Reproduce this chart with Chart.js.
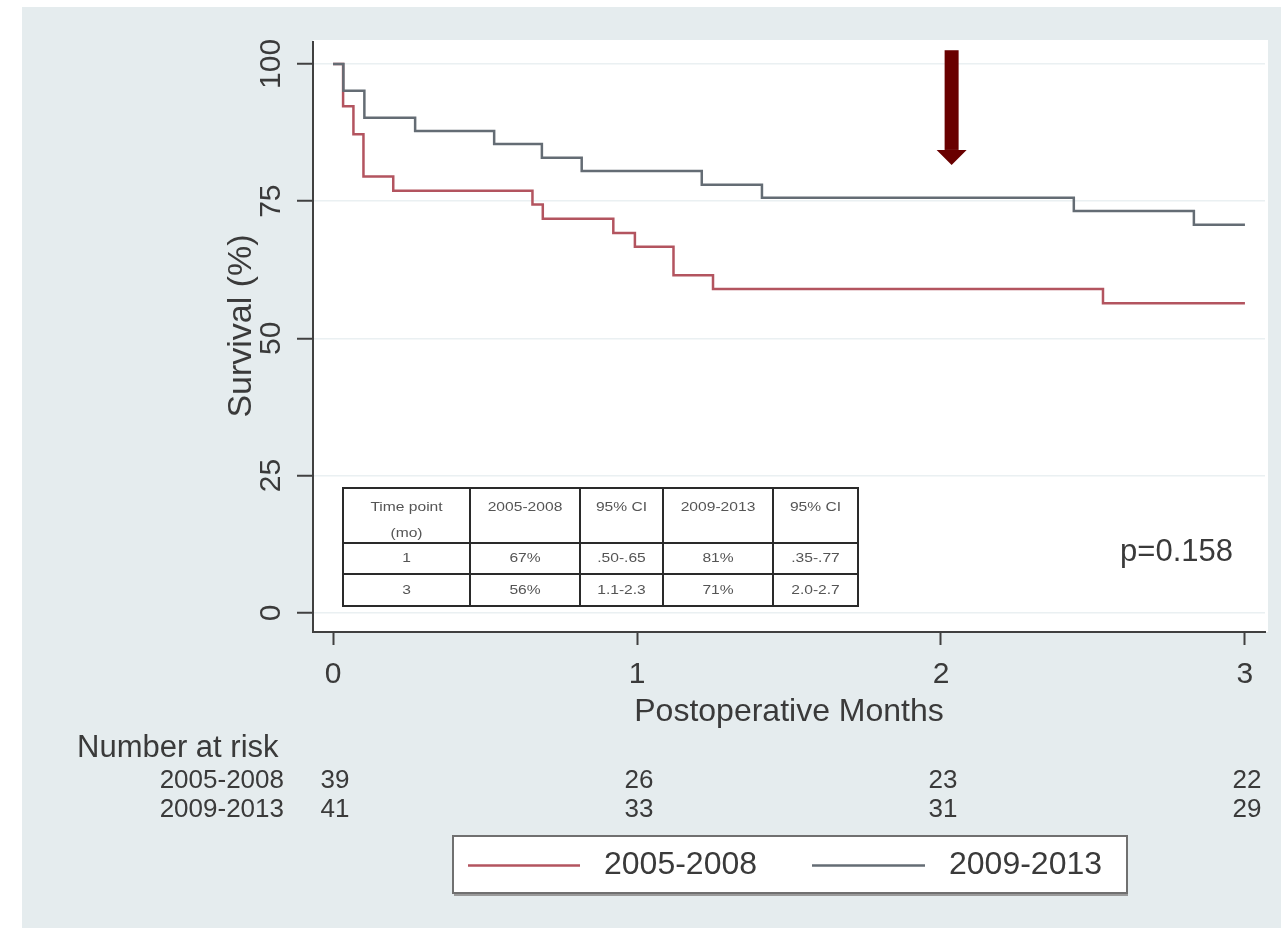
<!DOCTYPE html>
<html>
<head>
<meta charset="utf-8">
<title>Postoperative survival 2005-2008 vs 2009-2013</title>
<script src="https://cdn.jsdelivr.net/npm/chart.js@4/dist/chart.umd.min.js"></script>
<style>
  html, body { margin: 0; padding: 0; background: #ffffff; }
  #wrap { position: relative; width: 1281px; height: 935px; }
</style>
</head>
<body>
<div id="wrap"><canvas id="km"></canvas></div>
<script>
// Kaplan-Meier estimates (months after surgery, survival %)
const seriesNames = ['2005-2008', '2009-2013'];
const timeA = [0, 0.033, 0.067, 0.100, 0.198, 0.656, 0.690, 0.922, 0.993, 1.120, 1.250, 2.533, 3.000];
const survA = [100, 92.3, 87.2, 79.5, 76.9, 74.4, 71.8, 69.2, 66.7, 61.5, 59.0, 56.4, 56.4];
const timeB = [0, 0.034, 0.103, 0.270, 0.530, 0.687, 0.818, 1.213, 1.411, 2.437, 2.832, 3.000];
const survB = [100, 95.1, 90.2, 87.8, 85.4, 82.9, 80.5, 78.0, 75.6, 73.2, 70.7, 70.7];

// axis ticks
const xTicks = [0, 1, 2, 3];
const yTicks = [0, 25, 50, 75, 100];

// number at risk at each x tick
const riskA = [39, 26, 23, 22];
const riskB = [41, 33, 31, 29];

// inset summary table
const tableHead = [['Time point', '(mo)'], ['2005-2008'], ['95% CI'], ['2009-2013'], ['95% CI']];
const tableRows = [
  ['1', '67%', '.50-.65', '81%', '.35-.77'],
  ['3', '56%', '1.1-2.3', '71%', '2.0-2.7']
];
const pValueText = 'p=0.158';

// marker arrow (month, from % to %)
const arrowAt = 2.035;
const arrowFrom = 102.5;
const arrowTo = 81.6;

const FONT = "'Liberation Sans', Arial, Helvetica, sans-serif";
const INK = '#3a3a3a';
const AXIS = '#404040';
const RED = '#b3545f';
const GREY = '#646c74';
const PANEL = '#e5ecee';
const GRID = '#eaf0f2';

const framePlugin = {
  id: 'frame',
  beforeDraw(chart) {
    const { ctx, chartArea: a } = chart;
    ctx.save();
    ctx.fillStyle = '#ffffff';
    ctx.fillRect(0, 0, chart.width, chart.height);
    ctx.fillStyle = PANEL;
    ctx.fillRect(22, 7, chart.width - 22, 921);
    ctx.fillStyle = '#ffffff';
    ctx.fillRect(a.left, a.top - 2, a.right - a.left + 3, a.bottom - a.top + 2);
    ctx.restore();
  }
};

const notesPlugin = {
  id: 'notes',
  afterDraw(chart) {
    const { ctx, chartArea: a } = chart;
    const xs = chart.scales.x, ys = chart.scales.y;
    ctx.save();

    // y axis title
    ctx.save();
    ctx.translate(242, 326);
    ctx.rotate(-Math.PI / 2);
    ctx.fillStyle = INK;
    ctx.font = '34px ' + FONT;
    ctx.textAlign = 'center';
    ctx.textBaseline = 'middle';
    ctx.fillText('Survival (%)', 0, 0);
    ctx.restore();

    // arrow
    const ax = xs.getPixelForValue(arrowAt);
    const aTop = ys.getPixelForValue(arrowFrom);
    const aTip = ys.getPixelForValue(arrowTo);
    const headLen = 15, shaftW = 14, headW = 30;
    ctx.fillStyle = '#690000';
    ctx.fillRect(ax - shaftW / 2, aTop, shaftW, aTip - headLen - aTop);
    ctx.beginPath();
    ctx.moveTo(ax - headW / 2, aTip - headLen);
    ctx.lineTo(ax + headW / 2, aTip - headLen);
    ctx.lineTo(ax, aTip);
    ctx.closePath();
    ctx.fill();

    // inset table
    const tx = 343, ty = 488;
    const colW = [127, 110, 83, 110, 85];
    const rowH = [55, 31, 32];
    const tw = colW.reduce((s, v) => s + v, 0);
    const th = rowH.reduce((s, v) => s + v, 0);
    ctx.fillStyle = '#ffffff';
    ctx.fillRect(tx, ty, tw, th);
    ctx.strokeStyle = '#2a2a2a';
    ctx.lineWidth = 2;
    ctx.strokeRect(tx, ty, tw, th);
    ctx.beginPath();
    let cx = tx;
    for (let i = 0; i < colW.length - 1; i++) {
      cx += colW[i];
      ctx.moveTo(cx, ty); ctx.lineTo(cx, ty + th);
    }
    let ry = ty;
    for (let i = 0; i < rowH.length - 1; i++) {
      ry += rowH[i];
      ctx.moveTo(tx, ry); ctx.lineTo(tx + tw, ry);
    }
    ctx.stroke();

    // table text is small and soft; drawn slightly widened
    const stretch = 1.2;
    const cell = (s, mx, my) => {
      ctx.save();
      ctx.translate(mx, my);
      ctx.scale(stretch, 1);
      ctx.fillText(s, 0, 0);
      ctx.restore();
    };
    ctx.save();
    ctx.filter = 'blur(0.7px)';
    ctx.fillStyle = '#555555';
    ctx.font = '13px ' + FONT;
    ctx.textAlign = 'center';
    ctx.textBaseline = 'middle';
    cx = tx;
    tableHead.forEach((lines, i) => {
      const mid = cx + colW[i] / 2;
      lines.forEach((s, k) => cell(s, mid, ty + 19 + k * 26));
      cx += colW[i];
    });
    ry = ty + rowH[0];
    tableRows.forEach((row, r) => {
      let c = tx;
      row.forEach((s, i) => {
        cell(s, c + colW[i] / 2, ry + rowH[r + 1] / 2);
        c += colW[i];
      });
      ry += rowH[r + 1];
    });
    ctx.restore();

    // p value
    ctx.fillStyle = INK;
    ctx.textBaseline = 'middle';
    ctx.font = '31px ' + FONT;
    ctx.textAlign = 'right';
    ctx.fillText(pValueText, 1233, 552);

    // number at risk
    ctx.font = '31px ' + FONT;
    ctx.textAlign = 'left';
    ctx.fillText('Number at risk', 77, 748);
    ctx.font = '26px ' + FONT;
    ctx.textAlign = 'right';
    ctx.fillText(seriesNames[0], 284, 781);
    ctx.fillText(seriesNames[1], 284, 810);
    ctx.textAlign = 'center';
    xTicks.forEach((t, i) => {
      const px = xs.getPixelForValue(t);
      ctx.fillText(String(riskA[i]), px + 2, 781);
      ctx.fillText(String(riskB[i]), px + 2, 810);
    });

    // legend
    const lx = 453, ly = 836, lw = 674, lh = 57;
    ctx.fillStyle = '#9a9a9a';
    ctx.fillRect(lx + 1, ly + 3, lw, lh);
    ctx.fillStyle = '#ffffff';
    ctx.fillRect(lx, ly, lw, lh);
    ctx.strokeStyle = '#707070';
    ctx.lineWidth = 2;
    ctx.strokeRect(lx, ly, lw, lh);
    const ymid = ly + lh / 2 + 1;
    ctx.lineWidth = 2.5;
    ctx.strokeStyle = RED;
    ctx.beginPath(); ctx.moveTo(468, ymid); ctx.lineTo(580, ymid); ctx.stroke();
    ctx.strokeStyle = GREY;
    ctx.beginPath(); ctx.moveTo(812, ymid); ctx.lineTo(925, ymid); ctx.stroke();
    ctx.fillStyle = INK;
    ctx.font = '32px ' + FONT;
    ctx.textAlign = 'left';
    ctx.fillText(seriesNames[0], 604, ymid);
    ctx.fillText(seriesNames[1], 949, ymid);

    ctx.restore();
  }
};

const toPoints = (ts, vs) => ts.map((t, i) => ({ x: t, y: vs[i] }));

new Chart(document.getElementById('km'), {
  type: 'line',
  data: {
    datasets: [
      { label: seriesNames[0], data: toPoints(timeA, survA), borderColor: RED, borderWidth: 2.5,
        stepped: 'before', pointRadius: 0, fill: false, order: 1 },
      { label: seriesNames[1], data: toPoints(timeB, survB), borderColor: GREY, borderWidth: 2.5,
        stepped: 'before', pointRadius: 0, fill: false, order: 0 }
    ]
  },
  options: {
    responsive: true,
    maintainAspectRatio: false,
    animation: false,
    devicePixelRatio: 1,
    layout: { padding: { left: 0, top: 42, right: 16, bottom: 203 } },
    plugins: { legend: { display: false }, tooltip: { enabled: false } },
    scales: {
      x: {
        type: 'linear', min: -0.066, max: 3.066,
        afterBuildTicks: s => { s.ticks = xTicks.map(v => ({ value: v })); },
        afterFit: s => { s.height = 100; },
        ticks: { font: { family: FONT, size: 30 }, color: INK, padding: 12, maxRotation: 0, autoSkip: false,
                 callback: v => String(v) },
        grid: { drawOnChartArea: false, tickLength: 13, tickColor: AXIS, tickWidth: 2 },
        border: { color: AXIS, width: 2 },
        title: { display: true, text: 'Postoperative Months', color: INK,
                 font: { family: FONT, size: 32 }, padding: { top: 0, bottom: 1 } }
      },
      y: {
        type: 'linear', min: -3.5, max: 104,
        afterBuildTicks: s => { s.ticks = yTicks.map(v => ({ value: v })); },
        afterFit: s => { s.width = 313; },
        ticks: { font: { family: FONT, size: 30 }, color: INK, padding: 0, minRotation: 90, maxRotation: 90,
                 crossAlign: 'center', autoSkip: false, callback: v => String(v) },
        grid: { color: GRID, lineWidth: 1.5, tickLength: 16, tickColor: AXIS, tickWidth: 2 },
        border: { color: AXIS, width: 2 }
      }
    }
  },
  plugins: [framePlugin, notesPlugin]
});
</script>
</body>
</html>
